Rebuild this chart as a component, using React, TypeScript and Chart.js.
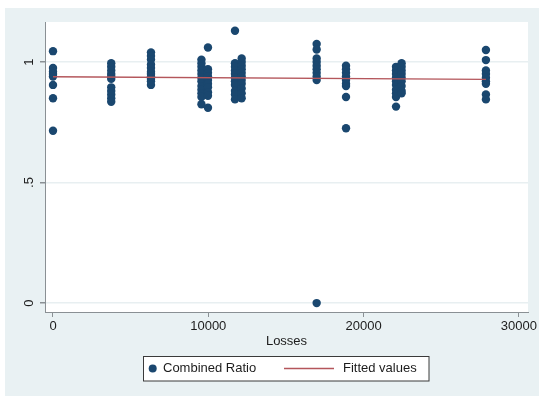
import React, { useEffect, useRef } from "react";
import { Chart, registerables } from "chart.js";

Chart.register(...registerables);

// Losses at which each group of observations sits
const clusterLosses = [0, 3750, 6310, 9560, 9980, 11720, 12150, 16980, 18870, 22090, 22450, 27880];

// Combined Ratio observations for each loss level
const clusterRatios: number[][] = [
  [1.045, 0.975, 0.96, 0.95, 0.94, 0.905, 0.85, 0.715],
  [0.995, 0.98, 0.965, 0.95, 0.94, 0.93, 0.895, 0.88, 0.865, 0.85, 0.835],
  [1.04, 1.025, 1.01, 0.99, 0.975, 0.96, 0.95, 0.94, 0.93, 0.92, 0.905],
  [1.01, 0.995, 0.98, 0.965, 0.95, 0.935, 0.92, 0.9, 0.885, 0.87, 0.855, 0.825],
  [1.06, 0.97, 0.955, 0.94, 0.925, 0.91, 0.895, 0.875, 0.86, 0.81],
  [1.13, 0.995, 0.98, 0.965, 0.95, 0.935, 0.92, 0.905, 0.88, 0.865, 0.845],
  [1.015, 1.0, 0.985, 0.97, 0.955, 0.94, 0.925, 0.91, 0.89, 0.87, 0.85],
  [1.075, 1.052, 1.015, 1.0, 0.985, 0.97, 0.955, 0.94, 0.925, 0.0],
  [0.985, 0.97, 0.955, 0.94, 0.925, 0.91, 0.9, 0.855, 0.725],
  [0.98, 0.965, 0.95, 0.935, 0.92, 0.905, 0.885, 0.87, 0.855, 0.815],
  [0.995, 0.98, 0.965, 0.95, 0.935, 0.92, 0.9, 0.88, 0.87],
  [1.05, 1.008, 0.965, 0.95, 0.935, 0.92, 0.91, 0.865, 0.845],
];

// Fitted regression line end points
const fittedLosses = [0, 27880];
const fittedValues = [0.939, 0.928];

const xTicks = [0, 10000, 20000, 30000];
const yTicks = [0, 0.5, 1];
const yTickLabels = ["0", ".5", "1"];

const FONT = '"Liberation Sans", Arial, Helvetica, sans-serif';
const NAVY = "#1a476f";
const RED = "#b4565b";
const AXIS = "#8a9094";
const TEXT = "#1c1c1c";

export default function App() {
  const canvasRef = useRef<HTMLCanvasElement | null>(null);

  useEffect(() => {
    if (!canvasRef.current) return;

    const points = clusterLosses.flatMap((x, i) => clusterRatios[i].map((y) => ({ x, y })));
    const fitted = fittedLosses.map((x, i) => ({ x, y: fittedValues[i] }));

    const backgroundPlugin = {
      id: "stataBackground",
      beforeDraw(chart: any) {
        const { ctx, chartArea } = chart;
        ctx.save();
        ctx.fillStyle = "#ffffff";
        ctx.fillRect(0, 0, chart.width, chart.height);
        ctx.fillStyle = "#e9f1f3";
        ctx.fillRect(5, 8, chart.width - 5, chart.height - 8);
        ctx.fillStyle = "#ffffff";
        ctx.fillRect(chartArea.left, chartArea.top, chartArea.right - chartArea.left, chartArea.bottom - chartArea.top);
        ctx.restore();
      },
    };

    const textPlugin = {
      id: "stataText",
      afterDraw(chart: any) {
        const { ctx, chartArea } = chart;
        const xs = chart.scales.x;
        const ys = chart.scales.y;
        ctx.save();
        ctx.fillStyle = TEXT;
        ctx.font = `13px ${FONT}`;

        // rotated y tick labels
        yTicks.forEach((v, i) => {
          const py = ys.getPixelForValue(v);
          ctx.save();
          ctx.translate(29, py);
          ctx.rotate(-Math.PI / 2);
          ctx.textAlign = "center";
          ctx.textBaseline = "middle";
          ctx.fillText(yTickLabels[i], 0, 0);
          ctx.restore();
        });

        // x tick labels
        ctx.textAlign = "center";
        ctx.textBaseline = "middle";
        xTicks.forEach((v) => {
          ctx.fillText(String(v), xs.getPixelForValue(v), 326.5);
        });

        // x axis title
        ctx.fillText("Losses", (chartArea.left + chartArea.right) / 2, 341);

        // legend
        const lx = 143.5, ly = 356.5, lw = 285.5, lh = 24.5;
        ctx.fillStyle = "#ffffff";
        ctx.fillRect(lx, ly, lw, lh);
        ctx.strokeStyle = "#3a3a3a";
        ctx.lineWidth = 1;
        ctx.strokeRect(lx, ly, lw, lh);
        const cy = 368.5;
        ctx.fillStyle = NAVY;
        ctx.beginPath();
        ctx.arc(152.7, cy, 4, 0, Math.PI * 2);
        ctx.fill();
        ctx.fillStyle = TEXT;
        ctx.textAlign = "left";
        ctx.fillText("Combined Ratio", 163, cy);
        ctx.strokeStyle = RED;
        ctx.lineWidth = 1.3;
        ctx.beginPath();
        ctx.moveTo(284, cy);
        ctx.lineTo(334, cy);
        ctx.stroke();
        ctx.fillText("Fitted values", 343, cy);
        ctx.restore();
      },
    };

    const chart = new Chart(canvasRef.current, {
      type: "scatter",
      data: {
        datasets: [
          {
            type: "line",
            label: "Fitted values",
            data: fitted,
            borderColor: RED,
            borderWidth: 1.4,
            pointRadius: 0,
            fill: false,
            order: 0,
          } as any,
          {
            label: "Combined Ratio",
            data: points,
            backgroundColor: NAVY,
            borderColor: NAVY,
            borderWidth: 0,
            pointRadius: 4.2,
            order: 1,
          },
        ],
      },
      options: {
        responsive: false,
        animation: false,
        layout: { padding: { left: 5, top: 22, right: 11, bottom: 0 } },
        plugins: {
          legend: { display: false },
          tooltip: { enabled: false },
        },
        scales: {
          x: {
            type: "linear",
            min: -515,
            max: 30590,
            afterBuildTicks: (scale: any) => {
              scale.ticks = xTicks.map((value) => ({ value }));
            },
            afterFit: (scale: any) => {
              scale.height = 84;
            },
            ticks: { display: false },
            grid: {
              drawOnChartArea: false,
              drawTicks: true,
              tickLength: 5,
              tickColor: AXIS,
              color: AXIS,
            },
            border: { display: true, color: AXIS, width: 1 },
          },
          y: {
            type: "linear",
            min: -0.037,
            max: 1.166,
            afterBuildTicks: (scale: any) => {
              scale.ticks = yTicks.map((value) => ({ value }));
            },
            afterFit: (scale: any) => {
              scale.width = 40;
            },
            ticks: { display: false },
            grid: {
              drawOnChartArea: true,
              drawTicks: true,
              tickLength: 5,
              tickColor: AXIS,
              color: "#e8eff1",
              lineWidth: 1.5,
            },
            border: { display: true, color: AXIS, width: 1 },
          },
        },
      },
      plugins: [backgroundPlugin, textPlugin],
    } as any);

    return () => chart.destroy();
  }, []);

  return (
    <div style={{ position: "absolute", left: 0, top: 0, width: 539, height: 396 }}>
      <canvas ref={canvasRef} width={539} height={396} />
    </div>
  );
}
